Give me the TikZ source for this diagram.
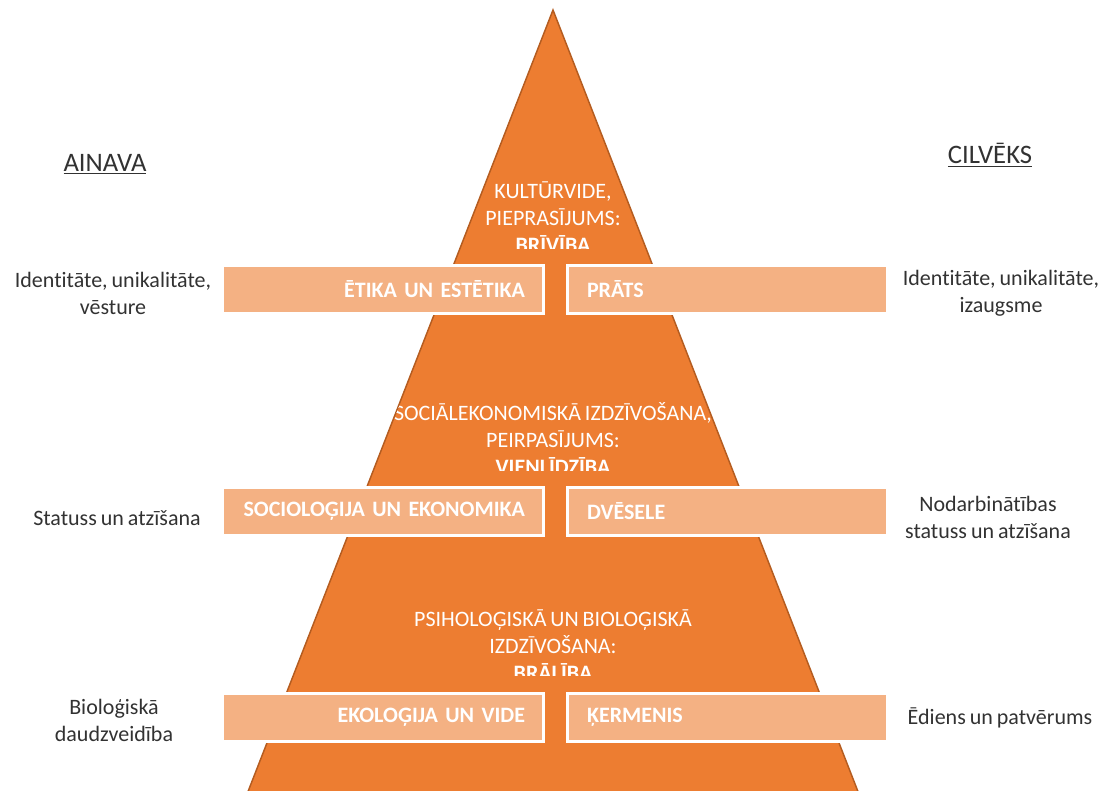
\documentclass[tikz,border=0pt]{standalone}
\usepackage{fontspec}
\setmainfont{Carlito}[Ligatures=NoCommon,WordSpace=0.8]
\usetikzlibrary{positioning}
\definecolor{pyrorange}{RGB}{237,125,49}
\definecolor{pyredge}{RGB}{180,92,32}
\definecolor{boxorange}{RGB}{244,177,131}
\definecolor{sidegray}{RGB}{50,50,50}
\tikzstyle{pyramid}=[fill=pyrorange,draw=pyredge,line width=1.1pt]
\tikzstyle{pyrtext}=[text=white,align=center,font=\fontsize{16.5}{20.25}\selectfont]
\tikzstyle{levelbox}=[fill=boxorange,draw=white,line width=2.25pt,text=white,
  minimum height=36pt,font=\bfseries\fontsize{16.5}{20}\selectfont]
\tikzstyle{leftbox}=[levelbox,inner xsep=13.5pt,text width=213.75pt,align=right]
\tikzstyle{rightbox}=[levelbox,inner xsep=15pt,text width=210pt,align=left]
\tikzstyle{sidetext}=[text=sidegray,align=center,font=\fontsize{16.5}{20.25}\selectfont]
\tikzstyle{headtext}=[text=sidegray,font=\fontsize{20}{24}\selectfont]

\begin{document}
\begin{tikzpicture}[x=0.75pt,y=-0.75pt]
  \useasboundingbox (0,0) rectangle (1107,790);
  \clip (0,0) rectangle (1107,790);
  % piramida
  \draw[pyramid] (553,10) -- (233,830) -- (873,830) -- cycle;
  % teksti piramidas iekšpusē
  \begin{scope}
    \clip (553,10) -- (233,830) -- (873,830) -- cycle;
    \begin{scope}
      \clip (0,150) rectangle (1107,248);
      \node[pyrtext] (kultura) at (553,217) {KULTŪRVIDE,\\PIEPRASĪJUMS:\\\textbf{BRĪVĪBA}};
    \end{scope}
    \begin{scope}
      \clip (0,370) rectangle (1107,470);
      \node[pyrtext] (socek) at (553,438) {SOCIĀLEKONOMISKĀ IZDZĪVOŠANA,\\PEIRPASĪJUMS:\\\textbf{VIENLĪDZĪBA}};
    \end{scope}
    \begin{scope}
      \clip (0,580) rectangle (1107,675);
      \node[pyrtext] (psihbio) at (553,645) {PSIHOLOĢISKĀ UN BIOLOĢISKĀ\\IZDZĪVOŠANA:\\\textbf{BRĀLĪBA}};
    \end{scope}
  \end{scope}
  % līmeņu kastes
  \node[leftbox] (etika) at (382.5,289) {ĒTIKA UN ESTĒTIKA};
  \node[rightbox] (prats) at (727,289) {PRĀTS};
  \node[leftbox] (sociol) at (382.5,511) {SOCIOLOĢIJA UN EKONOMIKA};
  \node[rightbox] (dvesele) at (727,511) {DVĒSELE};
  \node[leftbox] (ekol) at (382.5,717) {EKOLOĢIJA UN VIDE};
  \node[rightbox] (kermenis) at (727,717) {ĶERMENIS};
  % virsraksti
  \node[headtext] (ainava) at (105,164) {\underline{AINAVA}};
  \node[headtext] (cilveks) at (990,155) {\underline{CILVĒKS}};
  % malu teksti
  \node[sidetext] (identL) at (113,293) {Identitāte, unikalitāte,\\vēsture};
  \node[sidetext] (identR) at (1001,293) {Identitāte, unikalitāte,\\izaugsme};
  \node[sidetext] (statusL) at (117,518) {Statuss un atzīšana};
  \node[sidetext] (statusR) at (988,517) {Nodarbinātības\\statuss un atzīšana};
  \node[sidetext] (biol) at (114,720) {Bioloģiskā\\daudzveidība};
  \node[sidetext] (ediens) at (1000,718) {Ēdiens un patvērums};
\end{tikzpicture}
\end{document}
